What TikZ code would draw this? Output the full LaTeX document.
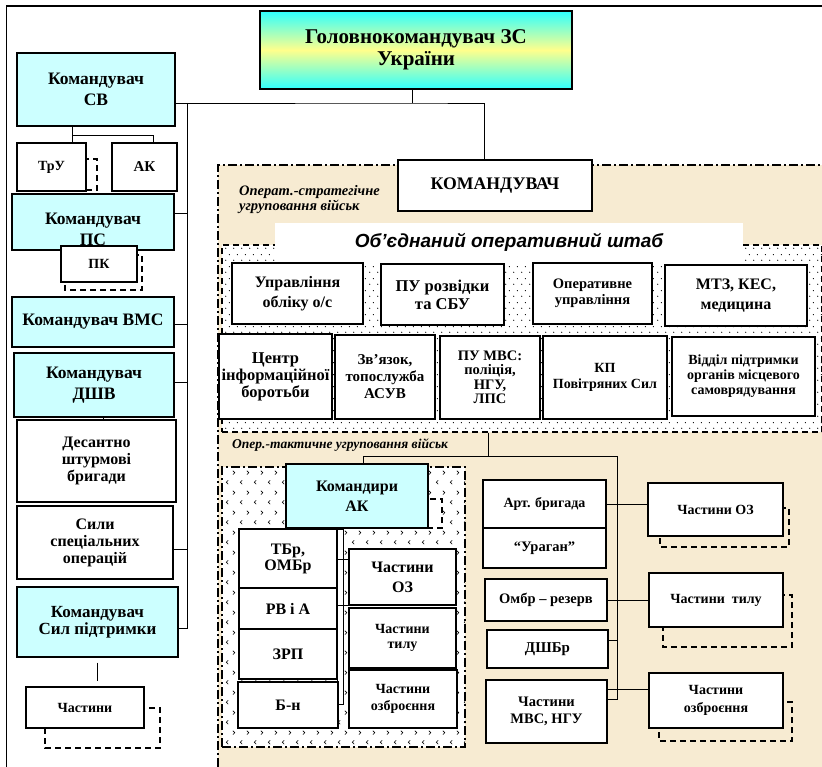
\documentclass[tikz,border=0pt]{standalone}
\usepackage{fontspec}
\setmainfont{Liberation Serif}
\newfontfamily\arialf{Liberation Sans}
\usetikzlibrary{fit,patterns}
\definecolor{cyanl}{HTML}{CCFFFF}
\definecolor{beige}{HTML}{F7EBD2}
\definecolor{gcyan}{HTML}{2EFFFF}
\definecolor{gyellow}{HTML}{FFFF8C}
\newcommand\myfs[2]{\fontsize{#1}{#2}\selectfont\bfseries}
% style, name, x1, y1, x2, y2, text
\newcommand\mybox[7]{\node[#1, minimum width={(#5)-(#3)}, minimum height={(#6)-(#4)}] (#2) at ({((#3)+(#5))/2},{((#4)+(#6))/2}) {#7};}
\pgfdeclarepatternformonly{shdots}{\pgfqpoint{0pt}{0pt}}{\pgfqpoint{8pt}{12pt}}{\pgfqpoint{8pt}{12pt}}{%
 \pgfpathcircle{\pgfqpoint{2pt}{3pt}}{0.65pt}%
 \pgfpathcircle{\pgfqpoint{6pt}{9pt}}{0.65pt}%
 \pgfusepath{fill}}
\pgfdeclarepatternformonly{chev}{\pgfqpoint{0pt}{0pt}}{\pgfqpoint{14pt}{20pt}}{\pgfqpoint{14pt}{20pt}}{%
 \pgfsetlinewidth{0.6pt}%
 \pgfpathmoveto{\pgfqpoint{4.5pt}{7pt}}\pgfpathlineto{\pgfqpoint{2.5pt}{5pt}}\pgfpathlineto{\pgfqpoint{4.5pt}{3pt}}%
 \pgfpathmoveto{\pgfqpoint{9.5pt}{17pt}}\pgfpathlineto{\pgfqpoint{11.5pt}{15pt}}\pgfpathlineto{\pgfqpoint{9.5pt}{13pt}}%
 \pgfusepath{stroke}}
\begin{document}
\begin{tikzpicture}[x=1pt,y=-1pt,
  box/.style={draw, line width=1.3pt, fill=white, inner sep=0pt, align=center},
  cbox/.style={box, fill=cyanl},
  shad/.style={draw, dash pattern=on 6pt off 4pt, line width=1.2pt},
  ln/.style={line width=0.9pt},
  dd/.style={line width=2pt, dash pattern=on 9pt off 3pt on 2pt off 3pt},
  lab/.style={font=\bfseries\itshape\fontsize{14.5}{15}\selectfont, align=left, anchor=west, inner sep=0pt}]
\useasboundingbox (0,0) rectangle (822,767);
% outer frame
\draw[line width=1.2pt] (6.5,767) -- (6.5,6) -- (822,6);
% operational-strategic region
\fill[beige] (218,165) rectangle (822,767);
\draw[dd] (218,767) -- (218,165) -- (822,165);
% joint staff region
\node[inner sep=0pt, fit={(222,245)(822,432)}, preaction={fill=white}, pattern=shdots, shad] (shtab) {};
\mybox{inner sep=0pt, fill=white, font=\arialf\bfseries\itshape\fontsize{19}{22}\selectfont}{banner}{275}{223}{743}{262}{Об’єднаний оперативний штаб}
\mybox{box, font={\myfs{17.7}{20}}}{kom}{398}{160}{592}{211}{КОМАНДУВАЧ}
\node[lab] (osl) at (239,199.5) {Операт.-стратегічне\\угруповання військ};
% title
\mybox{draw, line width=1.8pt, inner sep=0pt, top color=gcyan, bottom color=gcyan, middle color=gyellow, align=center, font={\myfs{21}{22}}}{title}{260}{11}{572}{89}{Головнокомандувач ЗС\\України}
% left column
\mybox{cbox, font={\myfs{17.5}{21}}}{sv}{17}{53}{175}{126}{Командувач\\СВ}
\draw[shad] (27,159) rectangle (97,190);
\mybox{box, font={\myfs{14}{16}}}{tru}{17}{143}{86}{191}{ТрУ}
\mybox{box, font={\myfs{15}{17}}}{ak}{112}{143}{177}{191}{АК}
\mybox{cbox}{ps}{12}{194}{174}{250}{}
\node[font={\myfs{17.5}{21}}, align=center, inner sep=0pt] (pst) at (93,229.5) {Командувач\\ПС};
\draw[shad] (65,255) rectangle (142,290);
\mybox{box, font={\myfs{14}{16}}}{pk}{61}{246}{137}{282}{ПК}
\mybox{cbox, font={\myfs{17.5}{21}}}{vms}{12}{297}{174}{347}{Командувач ВМС}
\mybox{cbox, font={\myfs{17.5}{21}}}{dshv}{14}{353}{174}{417}{Командувач\\ДШВ}
\mybox{box, font={\myfs{16}{17}}}{dsb}{17}{420}{176}{502}{Десантно\\штурмові\\бригади}
\mybox{box, font={\myfs{16}{17}}}{sso}{17}{506}{173}{579}{Сили\\спеціальних\\операцій}
\mybox{cbox, font={\myfs{17}{17}}}{sp}{17}{587}{178}{657}{Командувач\\Сил підтримки}
\draw[shad] (45,708) rectangle (160,748);
\mybox{box, font={\myfs{14}{16}}}{chl}{26}{687}{144}{728}{Частини}
% left connectors
\coordinate (j1) at (412,103);
\coordinate (busT) at (187,103);
\coordinate (busB) at (187,628);
\draw[ln] (title.south -| j1) -- (j1);
\draw[ln] (sv.east |- j1) -- (j1) -| ([xshift=-11pt]kom.north);
\draw[ln] (busT) -- (busB) -- (busB -| sp.east);
\draw[ln] ([yshift=9pt]ps.east) -- ([yshift=9pt]ps.east -| busT);
\draw[ln] ([yshift=-2pt]vms.east) -- ([yshift=-2pt]vms.east -| busT);
\draw[ln] ([yshift=3pt]dshv.east) -- ([yshift=3pt]dshv.east -| busT);
\draw[ln] ([yshift=-6.5pt]sso.east) -- ([yshift=-6.5pt]sso.east -| busT);
\coordinate (t1) at (72,135);
\draw[ln] (t1 |- sv.south) -- (t1 |- tru.north);
\draw[ln] (t1) -| ([xshift=8.5pt]ak.north);
\draw[ln] ([xshift=9pt]dshv.south) -- ([xshift=9pt]dshv.south |- dsb.north);
\draw[ln, shorten <=5pt, shorten >=5pt] (sp.south) -- (sp.south |- chl.north);
% joint staff row 1
\mybox{box, font={\myfs{16}{20}}}{upr}{232}{263}{363}{324}{Управління\\обліку о/с}
\mybox{box, font={\myfs{16.5}{18}}}{pur}{381}{264}{504}{325}{ПУ розвідки\\та СБУ}
\mybox{box, font={\myfs{14.5}{15.5}}}{opu}{533}{263}{652}{324}{Оперативне\\управління}
\mybox{box, font={\myfs{16}{20}}}{mtz}{665}{265}{807}{326}{МТЗ, КЕС,\\медицина}
% row 2
\mybox{box, font={\myfs{16.5}{17}}}{cib}{219}{334}{332}{419}{Центр\\інформаційної\\боротьби}
\mybox{box, font={\myfs{15}{17}}}{zv}{335}{335}{435}{419}{Зв'язок,\\топослужба\\АСУВ}
\mybox{box, font={\myfs{14.5}{14.5}}}{pumvs}{440}{336}{540}{419}{ПУ МВС:\\поліція,\\НГУ,\\ЛПС}
\mybox{box, font={\myfs{14}{16}}}{kp}{543}{336}{667}{419}{КП\\Повітряних Сил}
\mybox{box, font={\myfs{14}{15}}}{vpo}{672}{337}{815}{416}{Відділ підтримки\\органів місцевого\\самоврядування}
% operational-tactical
\node[lab, font=\bfseries\itshape\fontsize{13.5}{15}\selectfont] (otl) at (232,445) {Опер.-тактичне угруповання військ};
\node[inner sep=0pt, fit={(222,467)(465,747)}, preaction={fill=white}, pattern=chev, draw, dd] (akr) {};
\draw[shad, fill=white] (296,499) rectangle (442,528);
\mybox{cbox, font={\myfs{16}{20}}}{kak}{286}{464}{428}{528}{Командири\\АК}
\mybox{box, line width=0.8pt}{thin}{337}{529}{343}{704}{}
\mybox{box, font={\myfs{16}{16}}}{tbr}{239}{529}{337}{588}{ТБр,\\ОМБр}
\mybox{box, font={\myfs{16}{16}}}{rva}{239}{588}{337}{629}{РВ і А}
\mybox{box, font={\myfs{16}{16}}}{zrp}{239}{629}{337}{679}{ЗРП}
\mybox{box, font={\myfs{16}{16}}}{bn}{238}{682}{338}{728}{Б-н}
\mybox{box, font={\myfs{16}{20}}}{akoz}{349}{549}{456}{605}{Частини\\ОЗ}
\mybox{box, font={\myfs{14}{15}}}{aktil}{349}{608}{456}{668}{Частини\\тилу}
\mybox{box, font={\myfs{14}{17}}}{akozb}{349}{670}{457}{728}{Частини\\озброєння}
\draw[ln] ([yshift=18pt]akoz.west -| tbr.east) -- ([yshift=18pt]akoz.west);
\draw[ln] (akoz.south west -| tbr.east) -- (akoz.south west);
% right column
\draw[shad] (660,508) rectangle (789,547);
\draw[shad] (663,595) rectangle (792,647);
\draw[shad] (659,702) rectangle (792,741);
\mybox{box, font={\myfs{14}{16}}}{art}{483}{480}{606}{528}{Арт. бригада}
\mybox{box, font={\myfs{14.5}{16}}}{urg}{483}{528}{606}{568}{“Ураган”}
\mybox{box, font={\myfs{14.5}{16}}}{omb}{485}{579}{607}{621}{Омбр – резерв}
\mybox{box, font={\myfs{15}{16}}}{dshbr}{487}{630}{608}{668}{ДШБр}
\mybox{box, font={\myfs{14.5}{17}}}{mvs}{486}{680}{607}{743}{Частини\\МВС, НГУ}
\mybox{box, font={\myfs{14}{16}}}{roz}{648}{483}{783}{536}{Частини ОЗ}
\mybox{box, font={\myfs{14}{16}}}{rtil}{649}{573}{783}{627}{Частини\ \ тилу}
\mybox{box, font={\myfs{14}{18}}}{rozb}{649}{673}{783}{728}{Частини\\озброєння}
% right connectors
\coordinate (j2) at (488,456);
\coordinate (j3) at (617,456);
\coordinate (j4) at (617,699);
\draw[ln] (j2 |- shtab.south) -- (j2);
\draw[ln] ([xshift=6pt]kak.north) |- (j3) -- (j4) -- (j4 -| mvs.east);
\draw[ln] (art.east) -- (art.east -| roz.west);
\draw[ln] (omb.east) -- (omb.east -| rtil.west);
\draw[ln] ([yshift=9pt]dshbr.east) -- ([yshift=9pt]dshbr.east -| j3);
\draw[ln] ([yshift=22.5pt]mvs.east) -- ([yshift=22.5pt]mvs.east -| rozb.west);
\end{tikzpicture}
\end{document}
